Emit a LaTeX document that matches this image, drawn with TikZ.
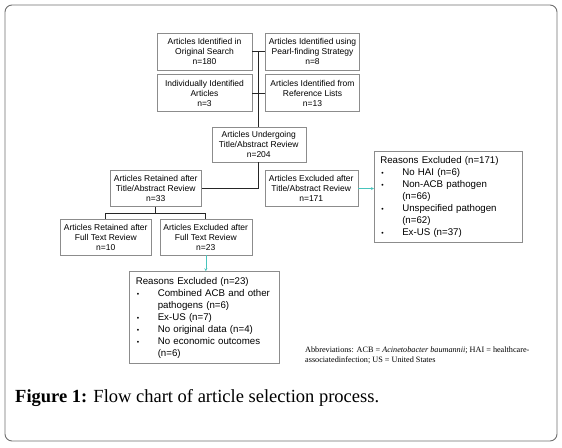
\documentclass[tikz,border=0pt]{standalone}
\usepackage{fontspec}
\setmainfont{Liberation Sans}
\newfontfamily\capfont{Liberation Serif}
\usepackage{graphicx}
\usetikzlibrary{arrows, positioning, calc}
\definecolor{arrowteal}{RGB}{72,196,188}
\definecolor{framegray}{RGB}{110,110,110}
\newcommand{\bulitem}[1]{\makebox[22pt][l]{\hspace{1pt}\scalebox{0.7}{\textbullet}}#1}
\newcommand{\bulcont}[1]{\hspace*{22pt}#1}
\tikzstyle{box} = [rectangle, minimum width=94pt, minimum height=36pt, inner sep=1pt, text centered, align=center, draw=black!45, line width=0.5pt, font=\fontsize{8.5}{10}\selectfont]
\tikzstyle{reasons} = [rectangle, text width=136pt, minimum height=92pt, align=left, draw=black!45, line width=0.5pt, font=\fontsize{9.7}{12}\selectfont]
\tikzstyle{line} = [line width=0.8pt, black!85]
\tikzstyle{arrow} = [thin, ->, >=stealth, arrowteal]

\begin{document}
\begin{tikzpicture}[x=1pt, y=1pt, node distance=13pt]
    \useasboundingbox (0,0) rectangle (562,-447);
    \draw [framegray, line width=0.9pt, rounded corners=7pt] (5,-5) rectangle (557,-441);

    \node (orig) [box, minimum width=95pt, minimum height=37pt] at (204.5,-51.5) {Articles Identified in\\Original Search\\n=180};
    \node (pearl) [box, minimum height=37pt, right=of orig] {Articles Identified using\\Pearl-finding Strategy\\n=8};
    \node (indiv) [box, minimum width=95pt, minimum height=37pt, below=4pt of orig] {Individually Identified\\Articles\\n=3};
    \node (reflist) [box, minimum height=37pt, below=4pt of pearl] {Articles Identified from\\Reference Lists\\n=13};
    \coordinate (spine) at ($(indiv.south east)!0.5!(reflist.south west)$);
    \node (undergo) [box, minimum height=35pt, below=15pt of spine] {Articles Undergoing\\Title/Abstract Review\\n=204};
    \node (retained) [box, minimum width=91pt, below left=8pt and 10pt of undergo] {Articles Retained after\\Title/Abstract Review\\n=33};
    \node (excluded) [box, minimum width=93pt, right=63pt of retained] {Articles Excluded after\\Title/Abstract Review\\n=171};
    \node (reasonsA) [reasons, inner xsep=6pt, minimum height=91pt, right=16pt of excluded, yshift=-8.5pt] {Reasons Excluded (n=171)\\
        \bulitem{No HAI (n=6)}\\
        \bulitem{Non-ACB pathogen}\\
        \bulcont{(n=66)}\\
        \bulitem{Unspecified pathogen}\\
        \bulcont{(n=62)}\\
        \bulitem{Ex-US (n=37)}};
    \node (ftretained) [box, minimum width=91pt, below=12pt of retained, xshift=-50pt] {Articles Retained after\\Full Text Review\\n=10};
    \node (ftexcluded) [box, minimum width=92pt, right=8pt of ftretained] {Articles Excluded after\\Full Text Review\\n=23};
    \node (reasonsB) [reasons, inner xsep=7pt, below=16pt of ftexcluded, xshift=-2pt] {Reasons Excluded (n=23)\\
        \bulitem{Combined ACB and other}\\
        \bulcont{pathogens (n=6)}\\
        \bulitem{Ex-US (n=7)}\\
        \bulitem{No original data (n=4)}\\
        \bulitem{No economic outcomes}\\
        \bulcont{(n=6)}};
    \node (abbrev) [anchor=north west, align=left, inner sep=0pt, font=\capfont\fontsize{8.2}{10}\selectfont] at (305,-347) {Abbreviations: ACB = \textit{Acinetobacter baumannii}; HAI = healthcare-\\associatedinfection; US = United States};
    \node (caption) [anchor=base west, inner sep=0pt, font=\capfont\fontsize{18.5}{22}\selectfont] at (15,-402) {\textbf{Figure 1:} Flow chart of article selection process.};

    \draw [line] (orig.east) -- (pearl.west);
    \draw [line] (indiv.east) -- (reflist.west);
    \draw [line] ($(orig.east)!0.5!(pearl.west)$) -- (undergo.north);
    \draw [line] (undergo.south) -- (undergo.south |- retained.east) -- (retained.east);
    \draw [arrow] (excluded.east) -- (excluded.east -| reasonsA.west);
    \draw [line] (retained.south) -- ++(0,-7pt) coordinate (fork);
    \draw [line] (ftretained.north) |- (fork) -| (ftexcluded.north);
    \draw [arrow] (ftexcluded.south) -- (ftexcluded.south |- reasonsB.north);
\end{tikzpicture}
\end{document}
